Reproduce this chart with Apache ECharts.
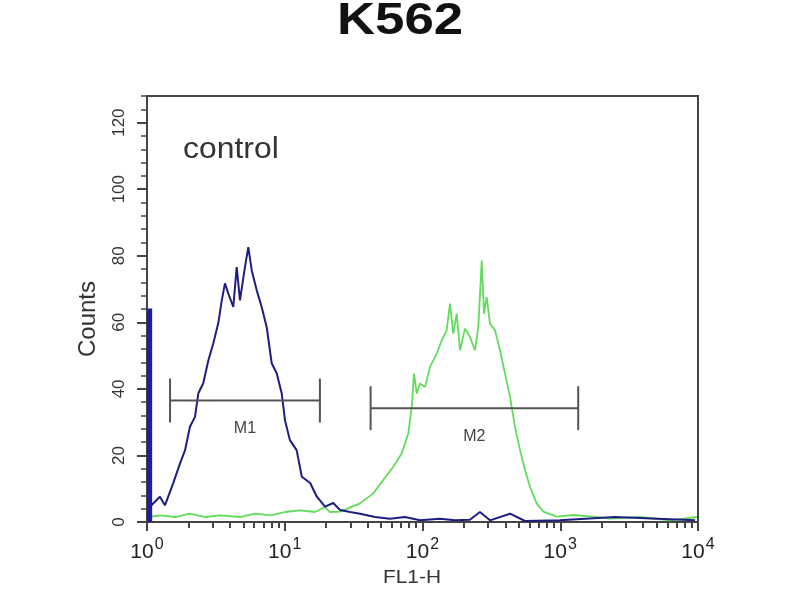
<!DOCTYPE html>
<html>
<head>
<meta charset="utf-8">
<script src="https://cdn.jsdelivr.net/npm/echarts@6/dist/echarts.min.js"></script>
<style>html,body{margin:0;padding:0;background:#fff}#c{width:800px;height:600px}</style>
</head>
<body>
<div id="c"></div>
<script>
// ---- data ----
var titleText = 'K562';
var xTicks = [1, 10, 100, 1000, 10000];
var yTicks = [0, 20, 40, 60, 80, 100, 120];
var controlX = [1.05, 1.24, 1.35, 1.55, 1.74, 1.89, 2.05, 2.23, 2.36, 2.56, 2.79, 3.03, 3.29, 3.49, 3.68, 3.89, 4.23, 4.48, 4.73, 5.14, 5.44, 5.76, 6.26, 6.80, 7.39, 8.04, 8.74, 9.50, 10.04, 10.9, 12.2, 13.3, 15.3, 17.1, 19.6, 22.5, 25.2, 29.8, 35.2, 45.2, 58.1, 74.6, 95.9, 134, 172, 221, 261, 309, 432, 555, 996, 2496, 9510];
var controlY = [4.6, 7.6, 5.0, 11.7, 17.7, 21.6, 28.6, 31.6, 38.7, 41.7, 48.6, 53.7, 59.7, 66.6, 71.7, 68.7, 64.6, 76.6, 66.6, 76.6, 82.6, 75.6, 69.6, 64.6, 58.6, 47.7, 44.7, 38.7, 30.6, 24.6, 21.6, 13.6, 11.7, 7.6, 4.6, 5.7, 3.6, 3.0, 2.5, 1.5, 1.0, 1.5, 0.5, 1.0, 0.5, 0.7, 3.0, 0.5, 2.5, 0.3, 0.5, 1.5, 0.5];
var controlSpikeX = [1, 1.09];
var controlSpikeY = [64, 64];
var sampleX = [1.02, 1.24, 1.60, 2.05, 2.64, 3.39, 4.73, 6.08, 7.81, 10.04, 12.9, 16.6, 19.6, 21.3, 25.2, 35.2, 43.9, 51.9, 61.4, 70.6, 78.9, 83.5, 86.8, 90.8, 95.9, 104.3, 113.4, 126.8, 137.9, 149.8, 158.3, 167.3, 177.1, 187.2, 203.4, 221.2, 240.5, 254.2, 269.1, 279.6, 292.5, 309, 336, 365.3, 397.2, 431.8, 469.5, 510.5, 554.9, 603.3, 674.5, 753.3, 942.4, 1243, 1737, 2297, 3793, 6262, 9833];
var sampleY = [1.5, 2.0, 1.5, 2.5, 1.5, 2.0, 1.5, 2.5, 2.0, 3.0, 3.5, 3.0, 4.5, 3.0, 3.1, 5.6, 8.6, 12.6, 16.6, 20.6, 26.6, 34.6, 44.6, 38.6, 41.6, 40.6, 46.6, 50.6, 54.6, 57.6, 65.6, 56.6, 62.6, 51.6, 58.1, 55.6, 51.6, 58.6, 78.6, 62.6, 67.6, 59.6, 57.6, 51.6, 44.6, 37.6, 28.6, 21.6, 15.6, 10.6, 5.6, 3.1, 1.6, 2.1, 1.6, 1.0, 1.5, 0.5, 1.5];
var markerNames = ['M1', 'M2'];
var markerStart = [1.47, 42];
var markerEnd = [18, 1350];
var markerLevel = [36.5, 34.2];

function pairs(xs, ys) { return xs.map(function (x, i) { return [x, ys[i]]; }); }
var xMinorTicks = [];
for (var d = 0; d < xTicks.length - 1; d++) for (var m = 2; m <= 9; m++) xMinorTicks.push(xTicks[d] * m);
var yMinorTicks = [];
for (var v = 0; v <= 128; v += 4) yMinorTicks.push(v);

var chart = echarts.init(document.getElementById('c'), null, { renderer: 'canvas' });
var axisColor = '#444';
var option = {
  backgroundColor: '#fff',
  animation: false,
  graphic: [
    { type: 'text', x: 400, y: 22, style: { text: titleText, font: 'bold 44px "Liberation Sans", Arial, sans-serif', fill: '#111', align: 'center', verticalAlign: 'middle' }, scaleX: 1.2 },
    { type: 'text', left: 183, top: 135, style: { text: 'control', font: '29px "Liberation Sans", Arial, sans-serif', fill: '#333' }, scaleX: 1.1 },
    { type: 'text', x: 412, y: 578, style: { text: 'FL1-H', font: '19px "Liberation Sans", Arial, sans-serif', fill: '#333', align: 'center', verticalAlign: 'middle' }, scaleX: 1.1 },
    { type: 'text', x: 76, y: 357, rotation: Math.PI / 2, style: { text: 'Counts', font: '24px "Liberation Sans", Arial, sans-serif', fill: '#333' } }
  ],
  grid: { left: 147, right: 102, top: 96, bottom: 78, show: true, borderColor: axisColor, borderWidth: 2, backgroundColor: 'transparent' },
  xAxis: [
    {
      type: 'log', logBase: 10, min: 1, max: 10000,
      axisLine: { show: true, lineStyle: { color: axisColor, width: 2 } },
      axisTick: { show: true, length: 9, lineStyle: { color: axisColor, width: 2 }, customValues: xTicks },
      splitLine: { show: false },
      axisLabel: {
        customValues: xTicks, margin: 15, color: '#222',
        formatter: function (val) { return '{b|10}{s|' + Math.round(Math.log10(val)) + '}'; },
        rich: {
          b: { fontSize: 21, fontFamily: '"Liberation Sans", Arial', color: '#222', verticalAlign: 'bottom' },
          s: { fontSize: 16, fontFamily: '"Liberation Sans", Arial', color: '#222', padding: [0, 0, 10, 1], verticalAlign: 'bottom' }
        }
      }
    },
    {
      type: 'log', logBase: 10, min: 1, max: 10000, position: 'bottom',
      axisLine: { show: false }, axisLabel: { show: false }, splitLine: { show: false },
      axisTick: { show: true, length: 6, lineStyle: { color: axisColor, width: 2 }, customValues: xMinorTicks }
    }
  ],
  yAxis: [
    {
      type: 'value', min: 0, max: 128,
      axisLine: { show: true, lineStyle: { color: axisColor, width: 2 } },
      axisTick: { show: true, length: 10, lineStyle: { color: axisColor, width: 2 }, customValues: yTicks },
      splitLine: { show: false },
      axisLabel: { customValues: yTicks, rotate: 90, margin: 19, fontSize: 17, color: '#333', fontFamily: '"Liberation Sans", Arial' }
    },
    {
      type: 'value', min: 0, max: 128, position: 'left',
      axisLine: { show: false }, axisLabel: { show: false }, splitLine: { show: false },
      axisTick: { show: true, length: 6, lineStyle: { color: axisColor, width: 1.5 }, customValues: yMinorTicks }
    }
  ],
  series: [
    {
      name: 'sample', type: 'line', data: pairs(sampleX, sampleY), showSymbol: false, z: 3,
      lineStyle: { color: '#62dc5c', width: 1.8 }
    },
    {
      name: 'control', type: 'line', data: pairs(controlX, controlY), showSymbol: false, z: 4,
      lineStyle: { color: '#1e1e82', width: 2 }
    },
    {
      name: 'controlSpike', type: 'line', data: pairs(controlSpikeX, controlSpikeY), showSymbol: false, z: 4,
      lineStyle: { color: '#1e1ea0', width: 1 }, areaStyle: { color: '#1e1ea0', opacity: 1 }
    },
    {
      name: 'markers', type: 'custom', z: 5,
      encode: { x: [0, 1], y: 2 },
      data: markerNames.map(function (n, i) { return [markerStart[i], markerEnd[i], markerLevel[i]]; }),
      renderItem: function (params, api) {
        var a = api.coord([api.value(0), api.value(2)]);
        var b = api.coord([api.value(1), api.value(2)]);
        var st = { stroke: '#555', lineWidth: 2 };
        var h = 22;
        return {
          type: 'group', children: [
            { type: 'line', shape: { x1: a[0], y1: a[1], x2: b[0], y2: b[1] }, style: st },
            { type: 'line', shape: { x1: a[0], y1: a[1] - h, x2: a[0], y2: a[1] + h }, style: st },
            { type: 'line', shape: { x1: b[0], y1: b[1] - h, x2: b[0], y2: b[1] + h }, style: st },
            { type: 'text', x: (a[0] + b[0]) / 2, y: a[1] + 28, style: { text: markerNames[params.dataIndex], font: '16px "Liberation Sans", Arial', fill: '#444', align: 'center', verticalAlign: 'middle' } }
          ]
        };
      }
    }
  ]
};
chart.setOption(option);
</script>
</body>
</html>
